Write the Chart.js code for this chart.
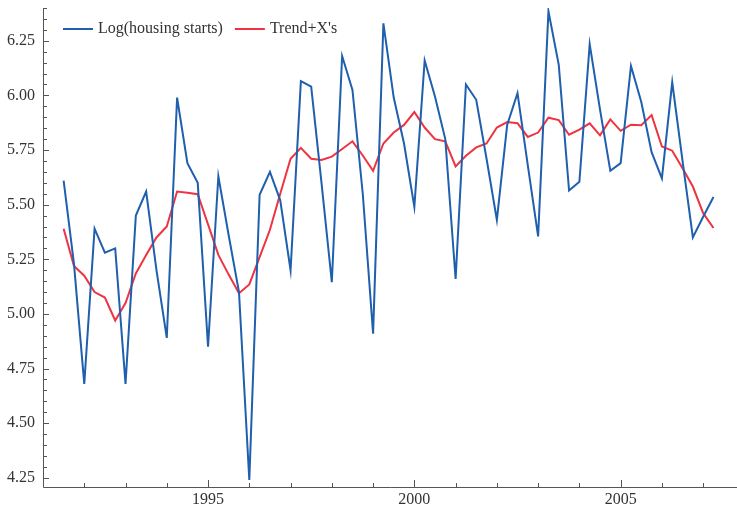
<!DOCTYPE html>
<html>
<head>
<meta charset="utf-8">
<script src="https://cdn.jsdelivr.net/npm/chart.js@4.4.1/dist/chart.umd.min.js"></script>
<style>
  html, body { margin: 0; padding: 0; background: #fff; }
</style>
</head>
<body>
<canvas id="chart" width="737" height="510"></canvas>
<script>
// quarterly dates, 1991 Q3 .. 2007 Q2
const quarters = [
  1991.5, 1991.75,
  1992, 1992.25, 1992.5, 1992.75,
  1993, 1993.25, 1993.5, 1993.75,
  1994, 1994.25, 1994.5, 1994.75,
  1995, 1995.25, 1995.5, 1995.75,
  1996, 1996.25, 1996.5, 1996.75,
  1997, 1997.25, 1997.5, 1997.75,
  1998, 1998.25, 1998.5, 1998.75,
  1999, 1999.25, 1999.5, 1999.75,
  2000, 2000.25, 2000.5, 2000.75,
  2001, 2001.25, 2001.5, 2001.75,
  2002, 2002.25, 2002.5, 2002.75,
  2003, 2003.25, 2003.5, 2003.75,
  2004, 2004.25, 2004.5, 2004.75,
  2005, 2005.25, 2005.5, 2005.75,
  2006, 2006.25, 2006.5, 2006.75,
  2007, 2007.25
];

const logStarts = [
  5.61, 5.23,
  4.68, 5.39, 5.28, 5.30,
  4.68, 5.45, 5.56, 5.20,
  4.89, 5.99, 5.69, 5.60,
  4.85, 5.63, 5.36, 5.10,
  4.24, 5.545, 5.65, 5.52,
  5.20, 6.065, 6.04, 5.60,
  5.145, 6.18, 6.025, 5.55,
  4.91, 6.33, 5.99, 5.78,
  5.49, 6.16, 5.995, 5.80,
  5.16, 6.05, 5.98, 5.71,
  5.43, 5.865, 6.01, 5.68,
  5.355, 6.385, 6.14, 5.565,
  5.605, 6.235, 5.935, 5.655,
  5.69, 6.135, 5.97, 5.74,
  5.62, 6.06, 5.70, 5.35,
  5.445, 5.535
];

const trendX = [
  5.39, 5.22,
  5.175, 5.10, 5.075, 4.97,
  5.05, 5.185, 5.27, 5.35,
  5.40, 5.56, 5.555, 5.548,
  5.41, 5.27, 5.18, 5.095,
  5.135, 5.26, 5.385, 5.55,
  5.71, 5.76, 5.71, 5.705,
  5.72, 5.755, 5.79, 5.725,
  5.655, 5.78, 5.83, 5.865,
  5.924, 5.853, 5.80, 5.79,
  5.675, 5.724, 5.762, 5.78,
  5.853, 5.878, 5.873, 5.81,
  5.83, 5.898, 5.887, 5.82,
  5.843, 5.872, 5.817, 5.89,
  5.838, 5.866, 5.864, 5.91,
  5.766, 5.747, 5.667, 5.583,
  5.461, 5.393
];

const yearTicks = [1995, 2000, 2005];
const valueTicks = [4.25, 4.5, 4.75, 5, 5.25, 5.5, 5.75, 6, 6.25];

const FONT = '"Liberation Serif", "Times New Roman", serif';
const AXIS_COLOR = '#555';
const TEXT_COLOR = '#333';

const toPoints = (ys) => quarters.map((x, i) => ({ x, y: ys[i] }));

// frame, inward ticks and the legend, Mathematica style
const framePlugin = {
  id: 'frame',
  afterDraw(chart) {
    const { ctx, chartArea: a, scales: { x, y } } = chart;
    ctx.save();
    ctx.strokeStyle = AXIS_COLOR;
    ctx.lineWidth = 1;
    ctx.beginPath();
    ctx.moveTo(a.left + 0.5, a.top);
    ctx.lineTo(a.left + 0.5, a.bottom + 0.5);
    ctx.lineTo(a.right, a.bottom + 0.5);

    for (let yr = 1992; yr <= 2007; yr++) {
      const px = Math.round(x.getPixelForValue(yr)) + 0.5;
      const len = yearTicks.includes(yr) ? 7 : 4;
      ctx.moveTo(px, a.bottom);
      ctx.lineTo(px, a.bottom - len);
    }
    for (let k = 85; k <= 128; k++) {
      const v = k * 0.05;
      const py = Math.round(y.getPixelForValue(v)) + 0.5;
      const len = k % 5 === 0 ? 6 : 4;
      ctx.moveTo(a.left, py);
      ctx.lineTo(a.left + len, py);
    }
    ctx.stroke();

    // legend
    ctx.font = `16px ${FONT}`;
    ctx.textBaseline = 'middle';
    let lx = a.left + 20;
    const ly = a.top + 21;
    chart.data.datasets.forEach((ds) => {
      ctx.strokeStyle = ds.borderColor;
      ctx.lineWidth = 2;
      ctx.beginPath();
      ctx.moveTo(lx, ly);
      ctx.lineTo(lx + 30, ly);
      ctx.stroke();
      ctx.fillStyle = TEXT_COLOR;
      ctx.fillText(ds.label, lx + 35, ly);
      lx += 35 + ctx.measureText(ds.label).width + 12;
    });
    ctx.restore();
  }
};

new Chart(document.getElementById('chart'), {
  type: 'line',
  data: {
    datasets: [
      {
        label: 'Log(housing starts)',
        data: toPoints(logStarts),
        borderColor: '#1f5fae',
        borderWidth: 2,
        pointRadius: 0,
        tension: 0,
        fill: false
      },
      {
        label: "Trend+X's",
        data: toPoints(trendX),
        borderColor: '#ee3441',
        borderWidth: 2,
        pointRadius: 0,
        tension: 0,
        fill: false
      }
    ]
  },
  options: {
    responsive: false,
    animation: false,
    devicePixelRatio: 1,
    layout: { padding: { top: 8, right: 0, bottom: 0, left: 0 } },
    plugins: {
      legend: { display: false },
      tooltip: { enabled: false }
    },
    scales: {
      x: {
        type: 'linear',
        min: 1991,
        max: 2007.82,
        afterBuildTicks: (s) => { s.ticks = yearTicks.map((v) => ({ value: v })); },
        afterFit: (s) => {
          s.height = 23;
          s.paddingLeft = 0;
          s.paddingRight = 0;
        },
        grid: { display: false, drawTicks: false },
        border: { display: false },
        ticks: {
          autoSkip: false,
          maxRotation: 0,
          padding: 3,
          color: TEXT_COLOR,
          font: { family: FONT, size: 16 },
          callback: (v) => String(v)
        }
      },
      y: {
        min: 4.208,
        max: 6.40,
        afterBuildTicks: (s) => { s.ticks = valueTicks.map((v) => ({ value: v })); },
        afterFit: (s) => {
          s.width = 43;
          s.paddingTop = 0;
          s.paddingBottom = 0;
        },
        grid: { display: false, drawTicks: false },
        border: { display: false },
        ticks: {
          padding: 8,
          color: TEXT_COLOR,
          font: { family: FONT, size: 16 },
          callback: (v) => v.toFixed(2)
        }
      }
    }
  },
  plugins: [framePlugin]
});
</script>
</body>
</html>
